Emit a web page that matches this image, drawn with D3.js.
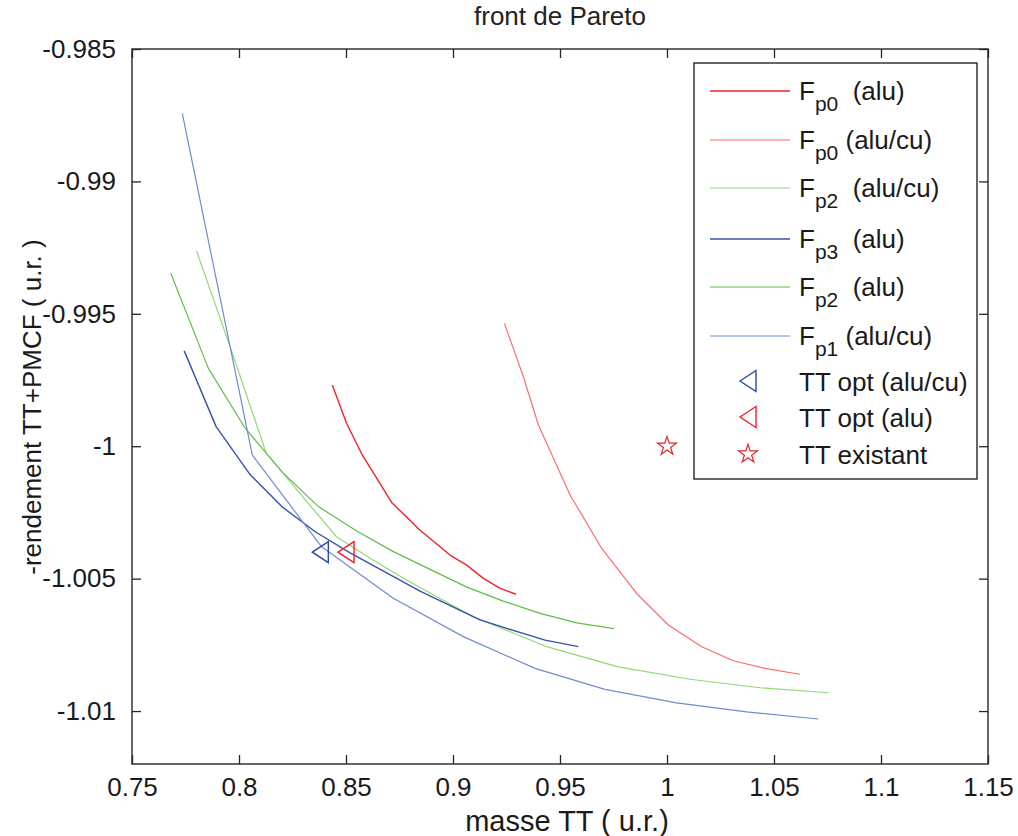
<!DOCTYPE html>
<html>
<head>
<meta charset="utf-8">
<script src="https://cdn.jsdelivr.net/npm/d3@7"></script>
<style>
  html, body { margin: 0; padding: 0; background: #fff; }
  svg { display: block; font-family: "Liberation Sans", Arial, Helvetica, sans-serif; }
</style>
</head>
<body>
<svg id="chart" width="1018" height="836"></svg>
<script>
// ---- data ----
const xTicks = [0.75, 0.8, 0.85, 0.9, 0.95, 1, 1.05, 1.1, 1.15];
const xTickLabels = ["0.75", "0.8", "0.85", "0.9", "0.95", "1", "1.05", "1.1", "1.15"];
const yTicks = [-0.985, -0.99, -0.995, -1, -1.005, -1.01];
const yTickLabels = ["-0.985", "-0.99", "-0.995", "-1", "-1.005", "-1.01"];

const fp0AluX = [0.8436, 0.8503, 0.8576, 0.8714, 0.8846, 0.8986, 0.9064, 0.9142, 0.9220, 0.9294];
const fp0AluY = [-0.99769, -0.99914, -1.00033, -1.00213, -1.00317, -1.00411, -1.00449, -1.00499, -1.00537, -1.00559];

const fp0AluCuX = [0.9240, 0.9329, 0.9399, 0.9547, 0.9695, 0.9858, 1.0006, 1.0162, 1.0310, 1.0458, 1.0621];
const fp0AluCuY = [-0.99536, -0.99738, -0.99920, -1.00184, -1.00386, -1.00556, -1.00675, -1.00757, -1.00810, -1.00839, -1.00861];

const fp2AluCuX = [0.7802, 0.7966, 0.8126, 0.8290, 0.8457, 0.8626, 0.8799, 0.9095, 0.9438, 0.9772, 1.0108, 1.0435, 1.0754];
const fp2AluCuY = [-0.99263, -0.99642, -1.00024, -1.00184, -1.00343, -1.00430, -1.00513, -1.00644, -1.00757, -1.00833, -1.00880, -1.00912, -1.00931];

const fp3AluX = [0.7744, 0.7893, 0.8051, 0.8200, 0.8358, 0.8519, 0.8846, 0.9126, 0.9251, 0.9430, 0.9586];
const fp3AluY = [-0.99640, -0.99926, -1.00106, -1.00228, -1.00324, -1.00403, -1.00547, -1.00656, -1.00688, -1.00732, -1.00757];

const fp2AluX = [0.7681, 0.7857, 0.8028, 0.8201, 0.8371, 0.8550, 0.8721, 0.8893, 0.9065, 0.9235, 0.9407, 0.9578, 0.9752];
const fp2AluY = [-0.99347, -0.99706, -0.99931, -1.00097, -1.00228, -1.00320, -1.00398, -1.00465, -1.00532, -1.00585, -1.00631, -1.00667, -1.00689];

const fp1AluCuX = [0.7735, 0.8062, 0.8386, 0.8721, 0.9048, 0.9383, 0.9710, 1.0045, 1.0372, 1.0707];
const fp1AluCuY = [-0.98743, -1.00033, -1.00380, -1.00574, -1.00719, -1.00839, -1.00918, -1.00969, -1.01003, -1.01030];

const ttOptAluCu = [0.838, -1.004];
const ttOptAlu = [0.850, -1.004];
const ttExistant = [1.0, -1.0];

const seriesNames = ["Fp0 (alu)", "Fp0 (alu/cu)", "Fp2 (alu/cu)", "Fp3 (alu)", "Fp2 (alu)", "Fp1 (alu/cu)"];
const legendSubs = ["p0", "p0", "p2", "p3", "p2", "p1"];
const legendRest = ["  (alu)", " (alu/cu)", "  (alu/cu)", "  (alu)", "  (alu)", " (alu/cu)"];
const markerNames = ["TT opt (alu/cu)", "TT opt (alu)", "TT existant"];

// ---- styles ----
const colors = ["#f2232b", "#ff6b6b", "#8fd873", "#3553ad", "#5fbd45", "#6f8ccf"];
const lineWidths = [1.4, 1.2, 1.2, 1.4, 1.2, 1.2];
const markerColors = ["#2a48a8", "#f0222a", "#e0262a"];

const svg = d3.select("#chart");
const x = d3.scaleLinear().domain([0.75, 1.15]).range([132, 988]);
const y = d3.scaleLinear().domain([-1.012, -0.985]).range([764, 49]);

const axisColor = "#262626";
const tickLen = 9;
const fontSz = 26;

// title
svg.append("text").attr("x", 560).attr("y", 25).attr("text-anchor", "middle")
  .attr("font-size", 26).attr("fill", "#222").text("front de Pareto");

// data lines
const allX = [fp0AluX, fp0AluCuX, fp2AluCuX, fp3AluX, fp2AluX, fp1AluCuX];
const allY = [fp0AluY, fp0AluCuY, fp2AluCuY, fp3AluY, fp2AluY, fp1AluCuY];
const line = d3.line().x(d => x(d[0])).y(d => y(d[1]));
const plot = svg.append("g");
allX.forEach((xs, i) => {
  const pts = xs.map((v, j) => [v, allY[i][j]]);
  plot.append("path").attr("d", line(pts)).attr("fill", "none")
    .attr("stroke", colors[i]).attr("stroke-width", lineWidths[i]).attr("stroke-linejoin", "round");
});

// markers
const triLeft = "M-8,0L8,-10.5L8,10.5Z";
[ttOptAluCu, ttOptAlu].forEach((p, i) => {
  plot.append("path").attr("d", triLeft)
    .attr("transform", `translate(${x(p[0])},${y(p[1])})`)
    .attr("fill", "none").attr("stroke", markerColors[i]).attr("stroke-width", 1.4);
});
const star = d3.symbol(d3.symbolStar).size(110);
plot.append("path").attr("d", star())
  .attr("transform", `translate(${x(ttExistant[0])},${y(ttExistant[1])})`)
  .attr("fill", "none").attr("stroke", markerColors[2]).attr("stroke-width", 1.2);

// axes box with inward ticks
const ax = svg.append("g");
ax.append("rect").attr("x", 132).attr("y", 49).attr("width", 988 - 132).attr("height", 764 - 49)
  .attr("fill", "none").attr("stroke", axisColor).attr("stroke-width", 1.4);

const xAxisB = d3.axisBottom(x).tickValues(xTicks).tickSize(-tickLen).tickPadding(14)
  .tickFormat((d, i) => xTickLabels[i]);
const xAxisT = d3.axisTop(x).tickValues(xTicks).tickSize(-tickLen).tickFormat("");
const yAxisL = d3.axisLeft(y).tickValues(yTicks).tickSize(-tickLen).tickPadding(16)
  .tickFormat((d, i) => yTickLabels[i]);
const yAxisR = d3.axisRight(y).tickValues(yTicks).tickSize(-tickLen).tickFormat("");

function styleAxis(g) {
  g.select(".domain").remove();
  g.selectAll(".tick line").attr("stroke", axisColor).attr("stroke-width", 1.3);
  g.selectAll(".tick text").attr("fill", "#1a1a1a").attr("font-size", fontSz)
    .attr("font-family", "'Liberation Sans', Arial, sans-serif");
}
ax.append("g").attr("transform", "translate(0,764)").call(xAxisB).call(styleAxis);
ax.append("g").attr("transform", "translate(0,49)").call(xAxisT).call(styleAxis);
ax.append("g").attr("transform", "translate(132,0)").call(yAxisL).call(styleAxis);
ax.append("g").attr("transform", "translate(988,0)").call(yAxisR).call(styleAxis);

// axis labels
svg.append("text").attr("x", 567).attr("y", 831).attr("text-anchor", "middle")
  .attr("font-size", 29).attr("fill", "#1a1a1a").text("masse TT ( u.r.)");
svg.append("text").attr("transform", "translate(41,407) rotate(-90)").attr("text-anchor", "middle")
  .attr("font-size", 26).attr("fill", "#1a1a1a").text("-rendement TT+PMCF ( u.r. )");

// legend
const lg = svg.append("g");
lg.append("rect").attr("x", 694).attr("y", 63).attr("width", 977 - 694).attr("height", 479 - 63)
  .attr("fill", "#fff").attr("stroke", axisColor).attr("stroke-width", 1.4);
const rowY = [91, 140, 188, 239, 287, 336];
seriesNames.forEach((name, i) => {
  lg.append("line").attr("x1", 710).attr("x2", 790).attr("y1", rowY[i]).attr("y2", rowY[i])
    .attr("stroke", colors[i]).attr("stroke-width", lineWidths[i]);
  const t = lg.append("text").attr("x", 799).attr("y", rowY[i] + 9).attr("font-size", fontSz).attr("fill", "#1a1a1a")
    .attr("xml:space", "preserve").style("white-space", "pre");
  t.append("tspan").text("F");
  t.append("tspan").attr("dy", 11).attr("font-size", 21).text(legendSubs[i]);
  t.append("tspan").attr("dy", -11).text(legendRest[i]);
});
const mRowY = [381, 417, 454];
markerNames.forEach((name, i) => {
  const shape = i < 2 ? triLeft : star();
  lg.append("path").attr("d", shape).attr("transform", `translate(748,${mRowY[i]})`)
    .attr("fill", "none").attr("stroke", markerColors[i]).attr("stroke-width", i < 2 ? 1.4 : 1.2);
  lg.append("text").attr("x", 799).attr("y", mRowY[i] + 10).attr("font-size", fontSz).attr("fill", "#1a1a1a")
    .text(name);
});
</script>
</body>
</html>
